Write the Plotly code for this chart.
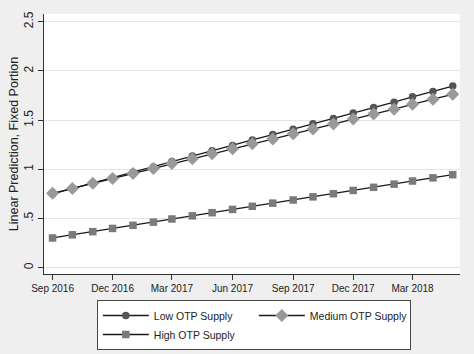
import plotly.graph_objects as go

months = ["2016-09-01", "2016-10-01", "2016-11-01", "2016-12-01", "2017-01-01",
          "2017-02-01", "2017-03-01", "2017-04-01", "2017-05-01", "2017-06-01",
          "2017-07-01", "2017-08-01", "2017-09-01", "2017-10-01", "2017-11-01",
          "2017-12-01", "2018-01-01", "2018-02-01", "2018-03-01", "2018-04-01",
          "2018-05-01"]

low_otp = [0.750, 0.805, 0.860, 0.915, 0.969, 1.024, 1.079, 1.134, 1.189, 1.243,
           1.298, 1.353, 1.408, 1.463, 1.517, 1.572, 1.627, 1.682, 1.737, 1.791, 1.846]
medium_otp = [0.756, 0.806, 0.857, 0.907, 0.957, 1.008, 1.058, 1.108, 1.158, 1.209,
              1.259, 1.309, 1.360, 1.410, 1.460, 1.511, 1.561, 1.611, 1.661, 1.712, 1.762]
high_otp = [0.302, 0.334, 0.366, 0.399, 0.431, 0.463, 0.495, 0.527, 0.559, 0.592,
            0.624, 0.656, 0.688, 0.720, 0.752, 0.785, 0.817, 0.849, 0.881, 0.913, 0.945]

x_tick_vals = ["2016-09-01", "2016-12-01", "2017-03-01", "2017-06-01",
               "2017-09-01", "2017-12-01", "2018-03-01"]
x_tick_text = ["Sep 2016", "Dec 2016", "Mar 2017", "Jun 2017",
               "Sep 2017", "Dec 2017", "Mar 2018"]
y_tick_vals = [0, 0.5, 1, 1.5, 2, 2.5]
y_tick_text = ["0", ".5", "1", "1.5", "2", "2.5"]

FONT = "Liberation Sans, Arial, sans-serif"

fig = go.Figure()
fig.add_trace(go.Scatter(
    x=months, y=low_otp, name="Low OTP Supply", mode="lines+markers",
    line=dict(color="#1a1a1a", width=1.3),
    marker=dict(symbol="circle", size=7.5, color="#555555", line=dict(width=0)),
))
fig.add_trace(go.Scatter(
    x=months, y=medium_otp, name="Medium OTP Supply", mode="lines+markers",
    line=dict(color="#1a1a1a", width=1.3),
    marker=dict(symbol="diamond", size=10, color="#999999", line=dict(width=0)),
))
fig.add_trace(go.Scatter(
    x=months, y=high_otp, name="High OTP Supply", mode="lines+markers",
    line=dict(color="#1a1a1a", width=1.3),
    marker=dict(symbol="square", size=7.5, color="#7a7a7a", line=dict(width=0)),
))

fig.update_layout(
    width=474, height=354,
    margin=dict(l=44, r=14, t=14, b=80, autoexpand=False),
    paper_bgcolor="#efefef",
    plot_bgcolor="#ffffff",
    font=dict(family=FONT, size=10, color="#222222"),
    showlegend=True,
    legend=dict(
        orientation="h", x=0.127, xanchor="left", y=-0.1, yanchor="top",
        bgcolor="#ffffff", bordercolor="#444444", borderwidth=1,
        font=dict(family=FONT, size=10.5, color="#222222"),
        itemwidth=46,
        entrywidth=95, entrywidthmode="pixels",
        traceorder="normal", tracegroupgap=0,
    ),
    xaxis=dict(
        type="date",
        range=["2016-08-19", "2018-05-12"],
        tickvals=x_tick_vals, ticktext=x_tick_text,
        showgrid=False, zeroline=False,
        showline=True, linecolor="#333333", linewidth=1,
        ticks="outside", ticklen=5, tickcolor="#333333",
        tickfont=dict(family=FONT, size=10),
    ),
    yaxis=dict(
        range=[-0.064, 2.578],
        tickvals=y_tick_vals, ticktext=y_tick_text,
        tickangle=-90,
        showgrid=True, gridcolor="#e4e4e4", gridwidth=1,
        zeroline=False,
        showline=True, linecolor="#333333", linewidth=1,
        ticks="outside", ticklen=5, tickcolor="#333333",
        tickfont=dict(family=FONT, size=12),
        title=dict(text="Linear Prediction, Fixed Portion",
                   font=dict(family=FONT, size=12.5), standoff=0),
    ),
)

fig.write_html("out.html")
